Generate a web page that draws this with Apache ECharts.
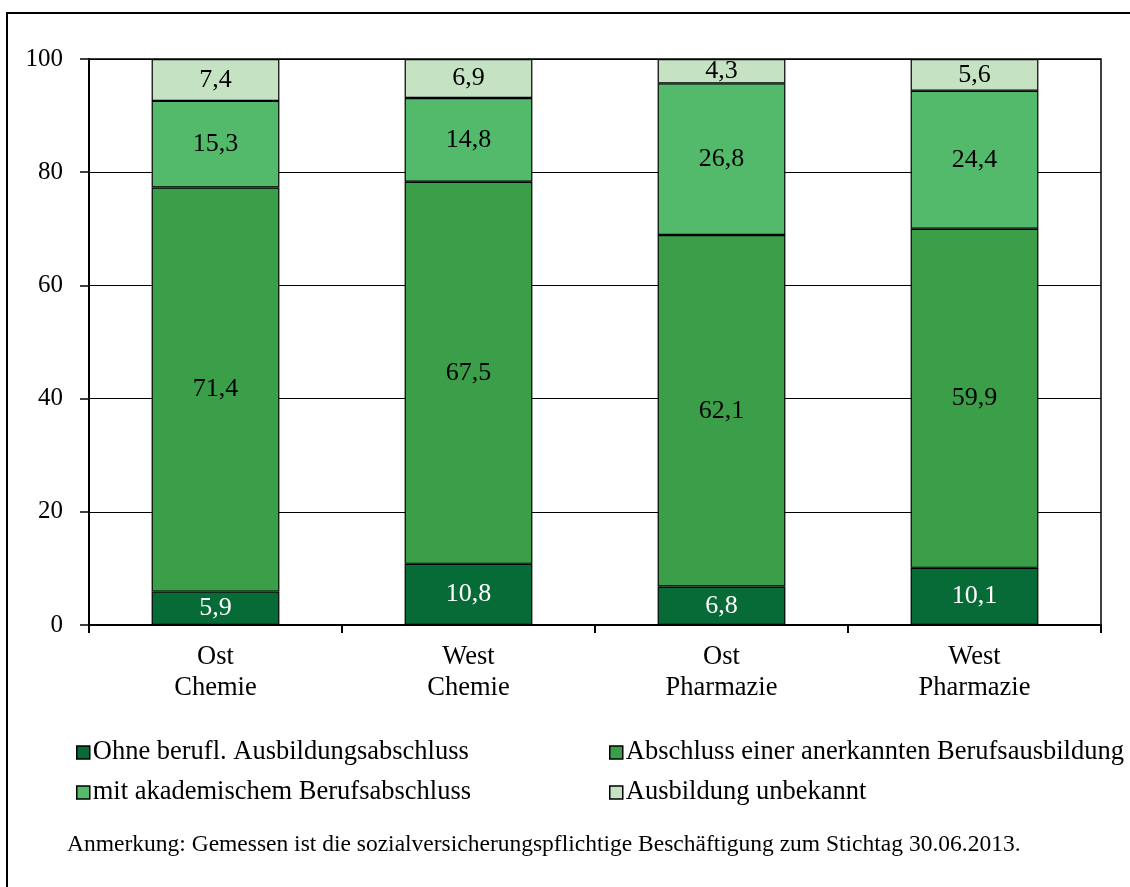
<!DOCTYPE html>
<html><head><meta charset="utf-8">
<script src="https://cdn.jsdelivr.net/npm/echarts@6/dist/echarts.min.js"></script>
<style>html,body{margin:0;padding:0;background:#fff}#c{width:1130px;height:887px}</style>
</head><body><div id="c"></div>
<script>
const categories = ['Ost\nChemie', 'West\nChemie', 'Ost\nPharmazie', 'West\nPharmazie'];
const seriesNames = ['Ohne berufl. Ausbildungsabschluss', 'Abschluss einer anerkannten Berufsausbildung', 'mit akademischem Berufsabschluss', 'Ausbildung unbekannt'];
const ohne = [5.9, 10.8, 6.8, 10.1];
const abschluss = [71.4, 67.5, 62.1, 59.9];
const akademisch = [15.3, 14.8, 26.8, 24.4];
const unbekannt = [7.4, 6.9, 4.3, 5.6];
const yTicks = [0, 20, 40, 60, 80, 100];
const note = 'Anmerkung: Gemessen ist die sozialversicherungspflichtige Beschäftigung zum Stichtag 30.06.2013.';

const colors = ['#066B37', '#3A9F48', '#53BA6B', '#C5E3C3'];
const labelColors = ['#fff', '#000', '#000', '#000'];
const values = [ohne, abschluss, akademisch, unbekannt];
const font = 'Liberation Serif, Times New Roman, serif';

const chart = echarts.init(document.getElementById('c'));
const legendPos = [[76, 739], [609, 739], [76, 779], [609, 779]];
chart.setOption({
  animation: false,
  textStyle: {fontFamily: font},
  grid: {left: 89, right: 29, top: 59, bottom: 262, show: true, borderColor: '#000', borderWidth: 1.5, backgroundColor: 'transparent'},
  legend: seriesNames.map((n, i) => ({
    data: [n], left: legendPos[i][0], top: legendPos[i][1], orient: 'horizontal',
    itemWidth: 13, itemHeight: 13, itemGap: 0, padding: 0,
    icon: 'rect', selectedMode: false,
    itemStyle: {borderColor: '#000', borderWidth: 1.5},
    textStyle: {fontFamily: font, fontSize: 26.5, color: '#000', padding: [0, 0, 0, -2]}
  })),
  xAxis: {
    type: 'category', data: categories,
    axisLine: {lineStyle: {color: '#000', width: 2}},
    axisTick: {show: true, length: 8, lineStyle: {color: '#000', width: 2}},
    axisLabel: {fontFamily: font, fontSize: 26.5, color: '#000', lineHeight: 31, margin: 17}
  },
  yAxis: {
    type: 'value', min: 0, max: 100, interval: 20,
    axisLine: {show: true, lineStyle: {color: '#000', width: 2}},
    axisTick: {show: true, length: 9, lineStyle: {color: '#000', width: 1.5}},
    axisLabel: {fontFamily: font, fontSize: 25, color: '#000', margin: 26,
      formatter: v => yTicks.includes(v) ? String(v) : ''},
    splitLine: {show: true, lineStyle: {color: '#000', width: 1}}
  },
  series: values.map((arr, i) => ({
    name: seriesNames[i], type: 'bar', stack: 's', data: arr,
    barWidth: '50.5%',
    itemStyle: {color: colors[i], borderColor: '#000', borderWidth: 1.2},
    label: {show: true, position: 'inside', fontFamily: font, fontSize: 26, color: labelColors[i],
      formatter: p => String(p.value).replace('.', ',')}
  })),
  graphic: [
    {type: 'rect', shape: {x: 7, y: 13, width: 1200, height: 1000}, style: {fill: 'none', stroke: '#000', lineWidth: 2}, silent: true, z: -1},
    {type: 'text', left: 67, top: 833, style: {text: note, font: '23.5px ' + font, fill: '#000'}}
  ]
});
</script></body></html>
